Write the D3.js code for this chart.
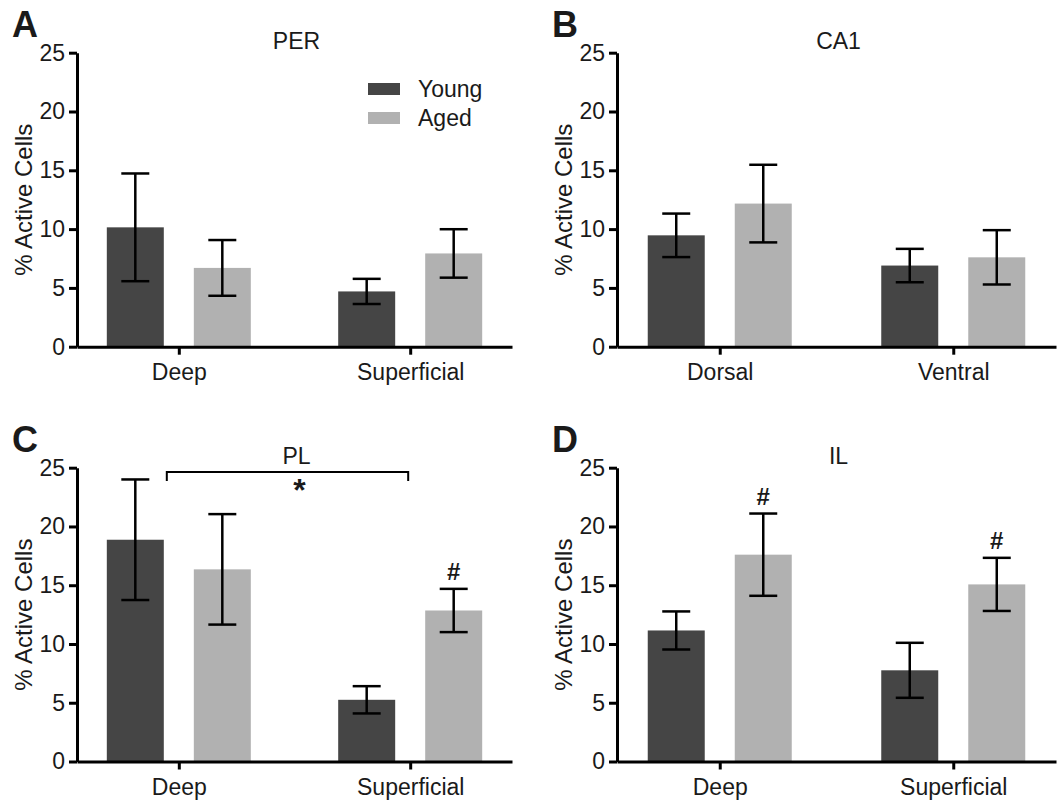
<!DOCTYPE html>
<html>
<head>
	<meta charset="utf-8">
	<title></title>
	<script src="https://d3js.org/d3.v7.min.js" charset="utf-8"></script>
	<style>
	body {margin: 0; background-color: #fff;}
	text {font-family: "Liberation Sans", Arial, sans-serif; fill: #1a1a1a;}
	.axis path, .axis line {stroke: #000; stroke-width: 3px;}
	.axis text {font-size: 23px; font-family: "Liberation Sans", Arial, sans-serif; fill: #1a1a1a;}
	.err {stroke: #000; stroke-width: 2.5px;}
	</style>
</head>
<body>
<script>

	// values (% active cells, mean and SEM)
	var groups = ["Young", "Aged"];
	var yTicks = [0, 5, 10, 15, 20, 25];

	var catsPER = ["Deep", "Superficial"];
	var youngPER = [10.15, 4.7];
	var youngPERsem = [4.58, 1.07];
	var agedPER = [6.7, 7.93];
	var agedPERsem = [2.37, 2.06];

	var catsCA1 = ["Dorsal", "Ventral"];
	var youngCA1 = [9.47, 6.9];
	var youngCA1sem = [1.85, 1.42];
	var agedCA1 = [12.17, 7.6];
	var agedCA1sem = [3.3, 2.31];

	var catsPL = ["Deep", "Superficial"];
	var youngPL = [18.87, 5.25];
	var youngPLsem = [5.13, 1.16];
	var agedPL = [16.35, 12.85];
	var agedPLsem = [4.7, 1.84];

	var catsIL = ["Deep", "Superficial"];
	var youngIL = [11.15, 7.76];
	var youngILsem = [1.62, 2.34];
	var agedIL = [17.6, 15.07];
	var agedILsem = [3.5, 2.26];

	// "#" marks: [category index, group index]
	var hashPL = [[1, 1]];
	var hashIL = [[0, 1], [1, 1]];

	var colors = {Young: "#454545", Aged: "#b1b1b1"};

	var width = 1060;
	var height = 804;

	var svg = d3.select("body")
	.append("svg")
	.attr("width", width)
	.attr("height", height);

	svg.append("rect").attr("width", width).attr("height", height).attr("fill", "#fff");

	function rows(cats, young, youngSem, aged, agedSem) {
		return cats.map(function(c, i) {
			return {cat: c, bars: [
				{group: "Young", value: young[i], sem: youngSem[i]},
				{group: "Aged", value: aged[i], sem: agedSem[i]}
			]};
		});
	}

	function drawPanel(p) {
		var g = svg.append("g");

		var x = d3.scalePoint()
		.domain(p.cats)
		.range([p.left, p.right])
		.padding(0.44);

		var xg = d3.scaleBand()
		.domain(groups)
		.range([-72, 72])
		.paddingInner(0.345);

		var y = d3.scaleLinear()
		.domain([0, 25])
		.range([p.bottom, p.top]);

		var data = rows(p.cats, p.young, p.youngSem, p.aged, p.agedSem);

		var cat = g.selectAll(".cat")
		.data(data)
		.enter()
		.append("g")
		.attr("transform", function(d) { return "translate(" + x(d.cat) + ",0)"; });

		cat.selectAll("rect")
		.data(function(d) { return d.bars; })
		.enter()
		.append("rect")
		.attr("x", function(d) { return xg(d.group); })
		.attr("width", xg.bandwidth())
		.attr("y", function(d) { return y(d.value); })
		.attr("height", function(d) { return y(0) - y(d.value); })
		.attr("fill", function(d) { return colors[d.group]; });

		// error bars
		var eb = cat.selectAll(".eb")
		.data(function(d) { return d.bars; })
		.enter()
		.append("g")
		.attr("transform", function(d) { return "translate(" + (xg(d.group) + xg.bandwidth() / 2) + ",0)"; });

		eb.append("line").attr("class", "err")
		.attr("x1", 0).attr("x2", 0)
		.attr("y1", function(d) { return y(d.value - d.sem); })
		.attr("y2", function(d) { return y(d.value + d.sem); });
		eb.append("line").attr("class", "err")
		.attr("x1", -14).attr("x2", 14)
		.attr("y1", function(d) { return y(d.value + d.sem); })
		.attr("y2", function(d) { return y(d.value + d.sem); });
		eb.append("line").attr("class", "err")
		.attr("x1", -14).attr("x2", 14)
		.attr("y1", function(d) { return y(d.value - d.sem); })
		.attr("y2", function(d) { return y(d.value - d.sem); });

		// hash marks above the aged bars
		(p.hash || []).forEach(function(h) {
			var b = data[h[0]].bars[h[1]];
			g.append("text")
			.attr("x", x(data[h[0]].cat) + xg(b.group) + xg.bandwidth() / 2)
			.attr("y", y(b.value + b.sem) - 9)
			.attr("text-anchor", "middle")
			.attr("font-size", "24px")
			.attr("font-weight", "bold")
			.attr("fill", "#000")
			.text("#");
		});

		// axes
		g.append("g")
		.attr("class", "axis")
		.attr("transform", "translate(" + p.left + ",0)")
		.call(d3.axisLeft(y).tickValues(yTicks).tickSize(8).tickSizeOuter(0).tickPadding(4));

		g.append("g")
		.attr("class", "axis")
		.attr("transform", "translate(0," + p.bottom + ")")
		.call(d3.axisBottom(x).tickSize(8).tickSizeOuter(0).tickPadding(9));

		g.append("text")
		.attr("transform", "translate(" + (p.left - 53) + "," + ((p.top + p.bottom) / 2) + ") rotate(-90)")
		.attr("text-anchor", "middle")
		.attr("dy", "0.35em")
		.attr("font-size", "24px")
		.text("% Active Cells");

		g.append("text")
		.attr("x", (p.left + p.right) / 2 + 2)
		.attr("y", p.top - 4)
		.attr("text-anchor", "middle")
		.attr("font-size", "23px")
		.text(p.title);

		g.append("text")
		.attr("x", p.left - 65)
		.attr("y", p.top - 16)
		.attr("font-size", "36px")
		.attr("font-weight", "bold")
		.attr("fill", "#000")
		.text(p.letter);

		return {x: x, xg: xg, y: y, g: g};
	}

	var top1 = 52.7, bottom1 = 346.7;
	var top2 = 467.7, bottom2 = 761.5;

	var pa = drawPanel({letter: "A", title: "PER", cats: catsPER, young: youngPER, youngSem: youngPERsem,
		aged: agedPER, agedSem: agedPERsem, left: 77, right: 512, top: top1, bottom: bottom1});
	drawPanel({letter: "B", title: "CA1", cats: catsCA1, young: youngCA1, youngSem: youngCA1sem,
		aged: agedCA1, agedSem: agedCA1sem, left: 617, right: 1056, top: top1, bottom: bottom1});
	var pc = drawPanel({letter: "C", title: "PL", cats: catsPL, young: youngPL, youngSem: youngPLsem,
		aged: agedPL, agedSem: agedPLsem, left: 77, right: 512, top: top2, bottom: bottom2, hash: hashPL});
	drawPanel({letter: "D", title: "IL", cats: catsIL, young: youngIL, youngSem: youngILsem,
		aged: agedIL, agedSem: agedILsem, left: 617, right: 1056, top: top2, bottom: bottom2, hash: hashIL});

	// legend in panel A
	var legend = pa.g.append("g").attr("transform", "translate(368,83)");
	legend.selectAll("rect")
	.data(groups)
	.enter()
	.append("rect")
	.attr("x", 0)
	.attr("y", function(d, i) { return i * 29; })
	.attr("width", 32)
	.attr("height", 12)
	.attr("fill", function(d) { return colors[d]; });
	legend.selectAll("text")
	.data(groups)
	.enter()
	.append("text")
	.attr("x", 50)
	.attr("y", function(d, i) { return i * 29 + 14; })
	.attr("font-size", "23px")
	.text(function(d) { return d; });

	// significance bracket between Young Deep and Young Superficial in PL
	var bx1 = pc.x(catsPL[0]) - 12;
	var bx2 = pc.x(catsPL[1]) - 2;
	var by = 472;
	pc.g.append("path")
	.attr("d", "M" + bx1 + "," + (by + 9) + "V" + by + "H" + bx2 + "V" + (by + 9))
	.attr("fill", "none")
	.attr("stroke", "#000")
	.attr("stroke-width", 2);
	pc.g.append("text")
	.attr("x", (bx1 + bx2) / 2 + 12)
	.attr("y", by + 29)
	.attr("text-anchor", "middle")
	.attr("font-size", "32px")
	.attr("font-weight", "bold")
	.attr("fill", "#000")
	.text("*");

</script>
</body>
</html>
